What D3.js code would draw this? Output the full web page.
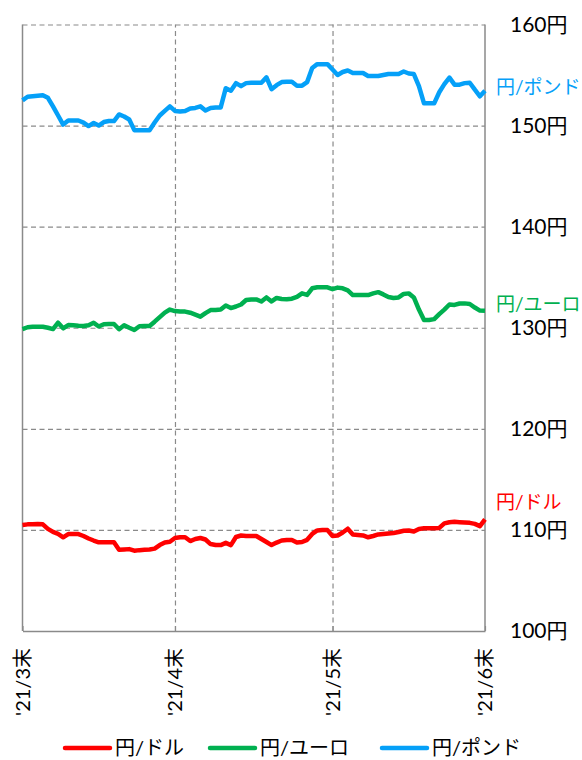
<!DOCTYPE html>
<html><head><meta charset="utf-8">
<script src="https://cdn.jsdelivr.net/npm/d3@7/dist/d3.min.js"></script>
<style>
html,body{margin:0;padding:0;background:#fff;}
svg{display:block;}
text{font-family:Lato,"Noto Sans CJK JP",sans-serif;}
</style></head><body>
<svg id="chart" width="582" height="760"></svg>
<script>
// ---- data (daily, 2021-03-31 .. 2021-06-30) ----
const startDate = "2021-03-31";
const endDate = "2021-06-30";
const seriesNames = ["円/ドル", "円/ユーロ", "円/ポンド"];
const seriesColors = ["#ff0000", "#00b050", "#05a0f8"];
const usdValues = [110.48,110.55,110.55,110.58,110.55,110.1,109.8,109.6,109.27,109.59,109.59,109.59,109.4,109.15,108.95,108.77,108.77,108.77,108.77,108.03,108.07,108.1,107.95,108.0,108.03,108.06,108.15,108.5,108.75,108.83,109.2,109.27,109.27,108.9,109.1,109.2,109.05,108.6,108.5,108.5,108.72,108.5,109.3,109.45,109.4,109.4,109.4,109.1,108.8,108.5,108.75,108.95,109.0,109.0,108.75,108.8,109.02,109.6,109.95,109.99,109.98,109.4,109.45,109.75,110.12,109.55,109.5,109.45,109.27,109.4,109.55,109.6,109.65,109.7,109.8,109.92,109.95,109.85,110.1,110.16,110.16,110.16,110.2,110.65,110.76,110.8,110.77,110.73,110.7,110.6,110.38,111.05];
const eurValues = [129.87,130.05,130.1,130.1,130.1,130.0,129.87,130.5,129.94,130.27,130.25,130.2,130.18,130.25,130.5,130.12,130.35,130.37,130.37,129.85,130.25,130.0,129.77,130.15,130.17,130.17,130.6,131.05,131.5,131.8,131.65,131.6,131.6,131.49,131.3,131.1,131.45,131.75,131.75,131.8,132.2,131.95,132.1,132.3,132.75,132.8,132.8,132.6,133.0,132.6,132.95,132.85,132.82,132.87,133.05,133.4,133.25,133.9,134.0,134.0,134.0,133.82,133.97,133.9,133.7,133.23,133.23,133.23,133.23,133.4,133.52,133.3,133.05,132.95,133.0,133.35,133.4,133.0,131.8,130.76,130.76,130.85,131.35,131.8,132.3,132.26,132.4,132.41,132.35,132.0,131.7,131.68];
const gbpValues = [152.5,152.85,152.9,152.95,153.0,152.75,151.9,151.0,150.1,150.5,150.5,150.5,150.3,149.95,150.25,150.0,150.35,150.45,150.45,151.1,150.9,150.6,149.55,149.55,149.55,149.55,150.3,151.0,151.45,151.9,151.45,151.4,151.45,151.7,151.75,151.9,151.5,151.75,151.8,151.8,153.7,153.45,154.2,153.9,154.2,154.24,154.24,154.24,154.77,153.6,154.0,154.3,154.34,154.34,153.95,153.95,154.3,155.7,156.08,156.08,156.08,155.55,155.0,155.3,155.45,155.2,155.2,155.2,154.9,154.9,154.9,155.0,155.1,155.1,155.1,155.35,155.15,155.1,153.9,152.2,152.2,152.2,153.3,154.1,154.75,154.05,154.05,154.2,154.24,153.55,152.9,153.44];
const xTickDates = ["2021-03-31", "2021-04-30", "2021-05-31", "2021-06-30"];
const xTickLabels = ["'21/3末", "'21/4末", "'21/5末", "'21/6末"];
const yTicks = [100, 110, 120, 130, 140, 150, 160];
const yTickLabels = ["100円", "110円", "120円", "130円", "140円", "150円", "160円"];

// ---- layout ----
const L = 22.5, R = 485, T = 24.5, B = 631;
const gridColor = "#8a8a8a";
const parse = d3.utcParse("%Y-%m-%d");
const days = d3.utcDay.range(parse(startDate), d3.utcDay.offset(parse(endDate), 1));
const allValues = [usdValues, eurValues, gbpValues];

const x = d3.scaleUtc().domain([parse(startDate), parse(endDate)]).range([L, R]);
const y = d3.scaleLinear().domain([100, 160]).range([B, T]);

const svg = d3.select("#chart");

// horizontal gridlines (dashed)
const gy = svg.append("g").attr("transform", `translate(${L},0)`)
  .call(d3.axisLeft(y).tickValues(yTicks.filter(v => v !== 100)).tickSize(-(R - L)).tickFormat(""));
gy.select(".domain").remove();
gy.selectAll("line").attr("stroke", gridColor).attr("stroke-width", 1.2).attr("stroke-dasharray", "5,3.5");

// vertical gridlines (dashed)
const innerTicks = xTickDates.slice(1, -1).map(parse);
const gx = svg.append("g").attr("transform", `translate(0,${B})`)
  .call(d3.axisBottom(x).tickValues(innerTicks).tickSize(-(B - T)).tickFormat(""));
gx.select(".domain").remove();
gx.selectAll("line").attr("stroke", gridColor).attr("stroke-width", 1.2).attr("stroke-dasharray", "5,3.5");

// axis frame: left, right, bottom solid
svg.append("line").attr("x1", L).attr("x2", L).attr("y1", T).attr("y2", B).attr("stroke", gridColor).attr("stroke-width", 1.5);
svg.append("line").attr("x1", R).attr("x2", R).attr("y1", T).attr("y2", B).attr("stroke", gridColor).attr("stroke-width", 1.5);
const xb = svg.append("g").attr("transform", `translate(0,${B})`)
  .call(d3.axisBottom(x).tickValues(xTickDates.map(parse)).tickSizeInner(-5).tickSizeOuter(0).tickFormat(""));
xb.select(".domain").attr("stroke", gridColor).attr("stroke-width", 1.5);
xb.selectAll("line").attr("stroke", gridColor).attr("stroke-width", 1.2);

// x tick labels (rotated)
svg.append("g").selectAll("text").data(xTickDates).join("text")
  .attr("transform", d => `translate(${x(parse(d))},${648}) rotate(-90)`)
  .attr("text-anchor", "end").attr("dy", "0.35em")
  .attr("font-size", 20).attr("fill", "#000")
  .text((d, i) => xTickLabels[i]);

// y tick labels on right
const ya = svg.append("g").attr("transform", `translate(${R},0)`)
  .call(d3.axisRight(y).tickValues(yTicks).tickSize(0).tickPadding(25).tickFormat((d, i) => yTickLabels[i]));
ya.select(".domain").remove();
ya.selectAll("text").attr("font-size", 21).attr("fill", "#000").attr("font-family", 'Lato,"Noto Sans CJK JP",sans-serif');

// lines
const line = d3.line().x((d, i) => x(days[i])).y(d => y(d)).curve(d3.curveLinear);
allValues.forEach((vals, k) => {
  svg.append("path").datum(vals)
    .attr("fill", "none").attr("stroke", seriesColors[k]).attr("stroke-width", 4.5)
    .attr("stroke-linejoin", "round").attr("stroke-linecap", "butt")
    .attr("d", line);
});

// series labels at right end
const labelDy = [-17, -6, -3];
allValues.forEach((vals, k) => {
  svg.append("text").attr("x", R + 11).attr("y", y(vals[vals.length - 1]) + labelDy[k])
    .attr("dy", "0.35em").attr("font-size", 19).attr("fill", seriesColors[k])
    .text(seriesNames[k]);
});

// legend
const legendX = [65, 210, 382];
const legendY = 748;
seriesNames.forEach((name, k) => {
  svg.append("line").attr("x1", legendX[k]).attr("x2", legendX[k] + 45)
    .attr("y1", legendY).attr("y2", legendY)
    .attr("stroke", seriesColors[k]).attr("stroke-width", 4.5).attr("stroke-linecap", "round");
  svg.append("text").attr("x", legendX[k] + 50).attr("y", legendY).attr("dy", "0.35em")
    .attr("font-size", 20).attr("fill", "#000").text(name);
});
</script>
</body></html>
